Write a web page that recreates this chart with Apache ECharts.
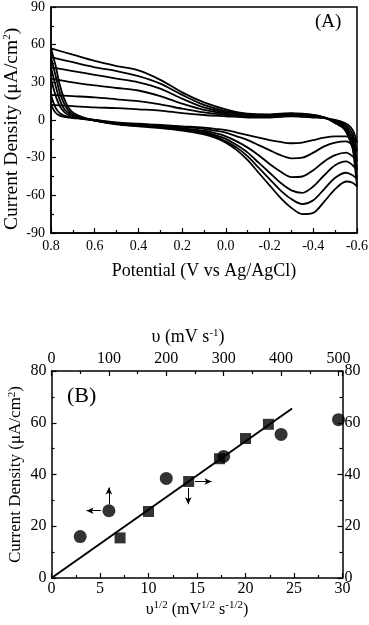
<!DOCTYPE html>
<html><head><meta charset="utf-8">
<script src="https://cdn.jsdelivr.net/npm/echarts@6/dist/echarts.min.js"></script>
<style>html,body{margin:0;padding:0;background:#fff}#c{width:369px;height:625px}</style>
</head><body><div id="c"></div>
<script>
// ---------- Panel A : cyclic voltammograms ----------
const potLower = [0.8, 0.78, 0.76, 0.74, 0.72, 0.7, 0.66, 0.6, 0.5, 0.4, 0.3, 0.2, 0.1, 0.05, 0.0, -0.05, -0.1, -0.15, -0.2, -0.25, -0.3, -0.35, -0.4, -0.45, -0.5, -0.55, -0.58, -0.6];
const potUpper = [-0.59, -0.58, -0.56, -0.54, -0.5, -0.45, -0.4, -0.35, -0.3, -0.25, -0.2, -0.1, 0.0, 0.1, 0.2, 0.3, 0.4, 0.5, 0.6, 0.7, 0.8];

const cv1Lower = [12, 6, 3.5, 2.5, 2, 1.5, 1, 0, -2, -3, -4, -5, -6, -7, -8, -10, -12, -14, -16, -17.5, -18.5, -18, -16, -14, -13, -13, -15, -18];
const cv2Lower = [20, 10, 5.5, 3.5, 2.5, 2, 1, 0, -2.5, -3.5, -4.5, -5.5, -7, -8.5, -10, -13, -16, -20, -24, -28, -30.5, -30, -26, -21, -18, -17, -20, -25];
const cv3Lower = [33, 20, 11, 6.5, 4, 3, 1.5, 0, -2.5, -4, -5, -6.5, -8.5, -10.5, -13, -17, -22, -28, -35, -41, -45.5, -45, -40, -33, -28, -26, -29, -33];
const cv4Lower = [42, 28, 16, 9, 5.5, 3.5, 1.5, -0.5, -3, -4.5, -5.5, -7, -9.5, -12, -15, -20, -26, -34, -42, -50, -56, -58, -53, -44, -36, -33, -36, -40];
const cv5Lower = [50, 36, 22, 13, 7.5, 4.5, 2, -0.5, -3, -4.5, -6, -7.5, -10.5, -13, -17, -22, -29, -38, -47, -56, -63, -67, -64, -55, -46, -42, -44, -47];
const cv6Lower = [57, 44, 28, 17, 10, 6, 2.5, -0.5, -3.5, -5, -6.5, -8.5, -11.5, -14, -18, -24, -32, -42, -52, -62, -70, -75, -74, -65, -55, -49, -50, -53];

const cv1Upper = [-12, -8, -4, -2, 0, 1.5, 2, 2.5, 3, 2.5, 2, 2, 3, 4, 5.5, 7.5, 8.5, 9.5, 10, 11, 12];
const cv2Upper = [-17, -11, -6, -3, -0.5, 1.5, 2.5, 3, 3.5, 3, 2.5, 2.5, 4, 6, 9, 12.5, 15, 16.5, 18, 19, 20];
const cv3Upper = [-22, -14, -8, -4, -1, 2, 3, 3.5, 4, 3.5, 3, 3, 5, 8, 13, 19, 23.5, 25.5, 27.5, 30, 33];
const cv4Upper = [-27, -17, -10, -5, -1.5, 2, 3.5, 4, 4.5, 4, 3.5, 4, 6, 10, 17, 25, 30, 33, 36, 39, 42];
const cv5Upper = [-32, -20, -11, -6, -2, 2, 4, 4.5, 5, 4.5, 4, 4.5, 7, 12, 20, 29, 35, 39, 42, 46, 50];
const cv6Upper = [-36, -23, -13, -7, -2.5, 2, 4, 5, 5.5, 5, 4.5, 5, 8.5, 14, 22, 32, 39.5, 43, 47, 52, 57];

const cvLower = [cv1Lower, cv2Lower, cv3Lower, cv4Lower, cv5Lower, cv6Lower];
const cvUpper = [cv1Upper, cv2Upper, cv3Upper, cv4Upper, cv5Upper, cv6Upper];

// ---------- Panel B ----------
const scanRates = [50, 100, 200, 300, 400, 500];            // top axis (mV/s)
const circleCurrents = [16, 26, 38.5, 47, 55.5, 61.2];       // left axis
const sqrtScanRates = [7.07, 10, 14.14, 17.32, 20, 22.36];   // bottom axis
const squareCurrents = [15.5, 25.7, 37.3, 46.1, 53.9, 59.4]; // right axis
const fitX = [0, 24.8];
const fitY = [0, 65.5];
// annotation arrows (data units)
const circleArrowH = [[86, 26], [61, 26]];
const circleArrowV = [[100, 28.5], [100, 35]];
const squareArrowH = [[14.8, 37.3], [16.5, 37.3]];
const squareArrowV = [[14.1, 34.8], [14.1, 28.5]];

const FONT = 'Liberation Serif';
const sup = {fontFamily: FONT, fontSize: 11, verticalAlign: 'top', padding: [0, 0, 8, 0], color: '#000'};

const chart = echarts.init(document.getElementById('c'), null, {renderer: 'canvas'});

const axisCommon = () => ({
  axisLine: {onZero: false, lineStyle: {color: '#000', width: 1.5}},
  axisTick: {inside: true, length: 5, lineStyle: {color: '#000', width: 1.2}},
  minorTick: {show: true, splitNumber: 2, length: 3, lineStyle: {color: '#000', width: 1.2}},
  splitLine: {show: false},
  nameMoveOverlap: false
});

const cvSeries = cvLower.map((low, k) => ({
  type: 'line', xAxisIndex: 0, yAxisIndex: 0,
  data: potLower.map((p, i) => [p, low[i]]).concat(potUpper.map((p, i) => [p, cvUpper[k][i]])),
  showSymbol: false, smooth: 0.3, silent: true,
  lineStyle: {color: '#000', width: 1.8}
}));

const option = {
  animation: false,
  backgroundColor: '#fff',
  grid: [
    {left: 51, top: 7, width: 306, height: 226, show: true, borderColor: '#000', borderWidth: 1.5, containLabel: false, outerBoundsMode: 'none'},
    {left: 51.5, top: 371, width: 291, height: 207, containLabel: false, outerBoundsMode: 'none'}
  ],
  xAxis: [
    Object.assign(axisCommon(), {
      type: 'value', gridIndex: 0, min: -0.6, max: 0.8, interval: 0.2, inverse: true,
      name: 'Potential (V vs Ag/AgCl)', nameLocation: 'middle', nameGap: 29,
      axisLabel: {color: '#000', fontFamily: FONT, fontSize: 14, margin: 6,
        formatter: v => Math.abs(v) < 1e-9 ? '0.0' : v.toFixed(1)},
      nameTextStyle: {color: '#000', fontFamily: FONT, fontSize: 18}
    }),
    Object.assign(axisCommon(), {
      type: 'value', gridIndex: 1, position: 'bottom', min: 0, max: 30, interval: 5,
      name: 'υ{s|1/2} (mV{s|1/2} s{s|-1/2})', nameLocation: 'middle', nameGap: 22,
      axisLabel: {color: '#000', fontFamily: FONT, fontSize: 16, margin: 3},
      nameTextStyle: {color: '#000', fontFamily: FONT, fontSize: 16, rich: {s: sup}}
    }),
    Object.assign(axisCommon(), {
      type: 'value', gridIndex: 1, position: 'top', min: 0, max: 507, interval: 100,
      name: 'υ (mV s{s|-1})', nameLocation: 'middle', nameGap: 24,
      axisLabel: {color: '#000', fontFamily: FONT, fontSize: 16, margin: 4, showMaxLabel: false,
        formatter: v => (v % 100 === 0 ? String(v) : '')},
      nameTextStyle: {color: '#000', fontFamily: FONT, fontSize: 18, rich: {s: sup}, padding: [0, 18, 0, 0]}
    })
  ],
  yAxis: [
    Object.assign(axisCommon(), {
      type: 'value', gridIndex: 0, min: -90, max: 90, interval: 30,
      name: 'Current Density (μA/cm{s|2})', nameLocation: 'middle', nameGap: 29,
      axisLabel: {color: '#000', fontFamily: FONT, fontSize: 14, margin: 6},
      nameTextStyle: {color: '#000', fontFamily: FONT, fontSize: 19.5, rich: {s: sup}, padding: [0, 18, 0, 0]}
    }),
    Object.assign(axisCommon(), {
      type: 'value', gridIndex: 1, position: 'left', min: 0, max: 80, interval: 20,
      name: 'Current Density (μA/cm{s|2})', nameLocation: 'middle', nameGap: 26,
      axisLabel: {color: '#000', fontFamily: FONT, fontSize: 16, margin: 5},
      nameTextStyle: {color: '#000', fontFamily: FONT, fontSize: 17, rich: {s: sup}}
    }),
    Object.assign(axisCommon(), {
      type: 'value', gridIndex: 1, position: 'right', min: 0, max: 80, interval: 20,
      axisLabel: {color: '#000', fontFamily: FONT, fontSize: 16, margin: 2}
    })
  ],
  graphic: [
    {type: 'text', left: 315, top: 13, style: {text: '(A)', font: '19px "Liberation Serif"', fill: '#000'}},
    {type: 'text', left: 67, top: 385, style: {text: '(B)', font: '22px "Liberation Serif"', fill: '#000'}}
  ],
  series: cvSeries.concat([
    {
      type: 'line', xAxisIndex: 1, yAxisIndex: 2, data: fitX.map((x, i) => [x, fitY[i]]),
      showSymbol: false, silent: true, lineStyle: {color: '#000', width: 2}
    },
    {
      type: 'scatter', xAxisIndex: 2, yAxisIndex: 1, symbol: 'circle', symbolSize: 13,
      data: scanRates.map((x, i) => [x, circleCurrents[i]]), itemStyle: {color: '#000'}, silent: true,
      markLine: {
        silent: true, symbol: ['none', 'arrow'], symbolSize: [5, 7], label: {show: false},
        lineStyle: {color: '#000', width: 1, type: 'solid'}, animation: false,
        data: [
          [{coord: circleArrowH[0]}, {coord: circleArrowH[1]}],
          [{coord: circleArrowV[0]}, {coord: circleArrowV[1]}]
        ]
      }
    },
    {
      type: 'scatter', xAxisIndex: 1, yAxisIndex: 2, symbol: 'rect', symbolSize: 11,
      data: sqrtScanRates.map((x, i) => [x, squareCurrents[i]]), itemStyle: {color: '#000'}, silent: true,
      markLine: {
        silent: true, symbol: ['none', 'arrow'], symbolSize: [5, 7], label: {show: false},
        lineStyle: {color: '#000', width: 1, type: 'solid'}, animation: false,
        data: [
          [{coord: squareArrowH[0]}, {coord: squareArrowH[1]}],
          [{coord: squareArrowV[0]}, {coord: squareArrowV[1]}]
        ]
      }
    }
  ])
};
chart.setOption(option);
</script>
</body></html>
